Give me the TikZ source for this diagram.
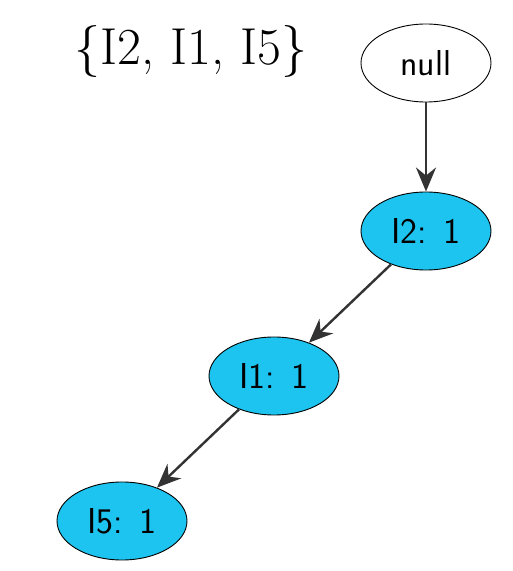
\documentclass[tikz,border=0pt]{standalone}
\usetikzlibrary{shapes.geometric,arrows.meta}
\definecolor{nodecyan}{RGB}{30,196,240}
\definecolor{edgegray}{RGB}{51,51,51}
\begin{document}
\begin{tikzpicture}[x=1pt,y=1pt,
  treenode/.style={ellipse,draw=black,line width=0.9pt,minimum width=130pt,minimum height=78pt,inner sep=0pt,font=\sffamily\fontsize{36}{40}\selectfont},
  itemnode/.style={treenode,fill=nodecyan},
  edge/.style={draw=edgegray,line width=2.4pt,-{Stealth[length=24pt,width=20pt,inset=8pt]}}]
\useasboundingbox (0,0) rectangle (513,571);
\node[font=\fontsize{52}{56}\selectfont] (title) at (191,519) {\{I2, I1, I5\}};
\node[treenode] (null) at (426,508) {null};
\node[itemnode] (i2) at (426,340) {I2:\hspace{0.45em}1};
\node[itemnode] (i1) at (274,195) {I1:\hspace{0.45em}1};
\node[itemnode] (i5) at (122,50) {I5:\hspace{0.45em}1};
\draw[edge] (null) -- (i2);
\draw[edge] (i2) -- (i1);
\draw[edge] (i1) -- (i5);
\end{tikzpicture}
\end{document}
